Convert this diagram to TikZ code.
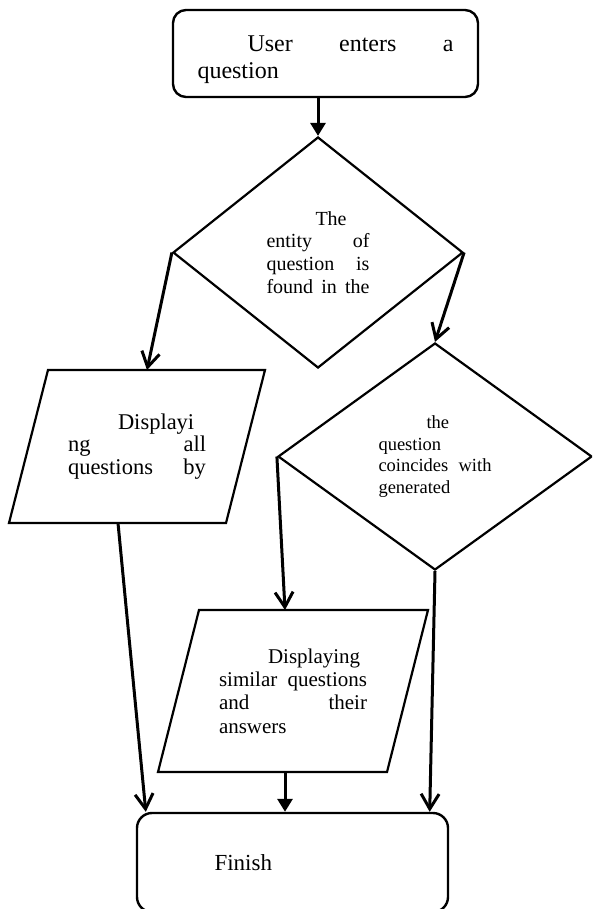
\documentclass[tikz,border=0pt]{standalone}
\usepackage{fontspec}
\setmainfont{Liberation Serif}
\usetikzlibrary{
  positioning,
  shapes.geometric,
  arrows.meta,
}
\definecolor{border}{HTML}{000000}
\definecolor{textCol}{HTML}{000000}
\tikzset{
  termbox/.style={
    rectangle, rounded corners=13pt, draw=border, fill=white,
    align=left, text=textCol, inner sep=0pt, line width=2.4pt,
  },
  decision/.style={
    diamond, draw=border, fill=white,
    align=left, text=textCol, inner sep=0pt, line width=2.2pt,
  },
  iobox/.style={
    rectangle, align=left, text=textCol, inner sep=0pt, outer sep=0pt,
  },
  ioline/.style={draw=border, line width=2.2pt, line join=miter},
  arrow/.style={-{Straight Barb[length=15pt,width=18pt]}, border, line width=3pt},
  farrow/.style={-{Triangle[length=13pt,width=15pt]}, border, line width=3pt},
}
\begin{document}
\begin{tikzpicture}[x=1pt, y=-1pt]

  \useasboundingbox (0,0) rectangle (592,909);
  \clip (0,0) rectangle (592,909);

  % Steps
  \node[termbox, minimum width=305pt, minimum height=87pt, text width=256pt,
    font=\fontsize{24pt}{27pt}\selectfont] (start) at (325.5, 53.5)
    {\rule{0pt}{29pt}\hspace*{50pt}User\hfill enters\hfill a\\question};
  \node[decision, minimum width=290pt, minimum height=231pt, text width=103pt,
    font=\fontsize{20pt}{22.7pt}\selectfont] (d1) at (318, 252.5)
    {\hspace*{49pt}The\\entity\hfill of\\question\hfill is\\found\hfill in\hfill the};
  \node[iobox, minimum width=256pt, minimum height=153pt, text width=138pt,
    font=\fontsize{22.5pt}{22.5pt}\selectfont] (p1) at (137, 446.5)
    {\hspace*{50pt}Displayi\\ng\hfill all\\questions\hfill by};
  \node[decision, minimum width=314pt, minimum height=227pt, text width=113pt,
    font=\fontsize{18.5pt}{21.5pt}\selectfont] (d2) at (435, 456.5)
    {\hspace*{48pt}the\\question\\coincides\hfill with\\generated};
  \node[iobox, minimum width=270pt, minimum height=162pt, text width=148pt,
    font=\fontsize{21pt}{23.3pt}\selectfont] (p2) at (293, 691)
    {\hspace*{49pt}Displaying\\similar\hfill questions\\and\hfill their\\answers};
  \node[termbox, rounded corners=15pt, minimum width=311pt, minimum height=99pt,
    text width=256pt, font=\fontsize{23pt}{26pt}\selectfont] (fin) at (292.5, 862.5)
    {\hspace*{50pt}Finish};

  % Slanted outlines of the display boxes
  \draw[ioline] ([xshift=39pt]p1.north west) -- (p1.north east)
    -- ([xshift=-39pt]p1.south east) -- (p1.south west) -- cycle;
  \draw[ioline] ([xshift=41pt]p2.north west) -- (p2.north east)
    -- ([xshift=-41pt]p2.south east) -- (p2.south west) -- cycle;

  % Ends of the slanted connectors
  \coordinate (p1in) at ([xshift=10pt]p1.north);
  \coordinate (p1out) at ([xshift=-19pt]p1.south);
  \coordinate (p2in) at ([xshift=-8pt]p2.north);
  \coordinate (p2out) at ([xshift=-8pt]p2.south);
  \coordinate (finL) at ([xshift=10pt]fin.north west);
  \coordinate (finR) at ([xshift=-19.5pt]fin.north east);

  \draw[farrow] (start.south -| d1.north) -- (d1.north);
  \draw[arrow] (d1.west) -- (p1in);
  \draw[arrow] (d1.east) -- (d2.north);
  \draw[arrow] (d2.west) -- (p2in);
  \draw[arrow] (p1out) -- (finL);
  \draw[farrow] (p2out) -- (p2out |- fin.north);
  \draw[arrow] (d2.south) -- (finR);

\end{tikzpicture}
\end{document}
